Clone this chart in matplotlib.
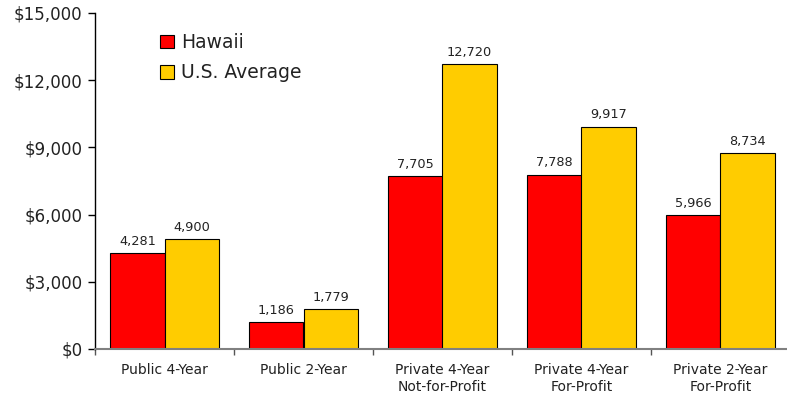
import matplotlib
matplotlib.use("Agg")
import matplotlib.pyplot as plt
import numpy as np
from matplotlib.ticker import FuncFormatter, FixedLocator

categories = ["Public 4-Year", "Public 2-Year", "Private 4-Year\nNot-for-Profit",
              "Private 4-Year\nFor-Profit", "Private 2-Year\nFor-Profit"]
hawaii = [4281, 1186, 7705, 7788, 5966]
us_avg = [4900, 1779, 12720, 9917, 8734]
series_names = ["Hawaii", "U.S. Average"]
colors = ["#FF0000", "#FFCC00"]

plt.rcParams['font.family'] = ['DejaVu Sans']
fig = plt.figure(figsize=(7.87, 3.96), dpi=100)
ax = fig.add_axes([95/787, 1-349/396, 695/787, 336/396])

x = np.arange(len(categories))
w = 0.39
b1 = ax.bar(x - w/2, hawaii, w, color=colors[0], edgecolor="black", linewidth=0.8, label=series_names[0])
b2 = ax.bar(x + w/2, us_avg, w, color=colors[1], edgecolor="black", linewidth=0.8, label=series_names[1])

for bars, vals in ((b1, hawaii), (b2, us_avg)):
    for r, v in zip(bars, vals):
        ax.annotate(f"{v:,}", (r.get_x() + r.get_width()/2, v), xytext=(0, 4),
                    textcoords="offset points", ha="center", va="bottom", fontsize=9.3,
                    color="#222222")

ax.set_xlim(-0.5, len(categories) - 0.5)
ax.set_ylim(0, 15000)
ax.set_yticks(np.arange(0, 15001, 3000))
ax.yaxis.set_major_formatter(FuncFormatter(lambda v, p: f"${v:,.0f}"))
ax.tick_params(axis="y", labelsize=12, length=5, direction="out", width=1, pad=4,
               labelcolor="#222222")

ax.set_xticks(x)
ax.set_xticklabels(categories, fontsize=10, linespacing=1.25, color="#222222")
ax.tick_params(axis="x", which="major", length=0, pad=10)
ax.xaxis.set_minor_locator(FixedLocator(np.arange(-0.5, len(categories), 1.0)))
ax.tick_params(axis="x", which="minor", length=4, color="#555555", width=1)

ax.spines["top"].set_visible(False)
ax.spines["right"].set_visible(False)
ax.spines["bottom"].set_color("#808080")
ax.spines["bottom"].set_linewidth(1.5)
ax.spines["left"].set_linewidth(1)

leg = ax.legend(loc="upper left", bbox_to_anchor=(0.094, 0.94), frameon=False, fontsize=13.5,
                handlelength=0.75, handleheight=0.75, handletextpad=0.35, labelspacing=0.6,
                borderaxespad=0, borderpad=0)
for t in leg.get_texts():
    t.set_color("#222222")

fig.savefig("out.png", dpi=100)
